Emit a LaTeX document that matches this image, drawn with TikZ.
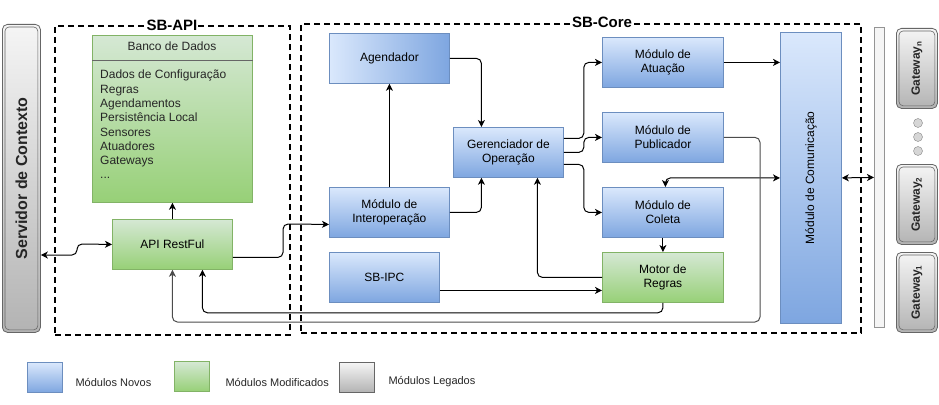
\documentclass[tikz,border=0pt]{standalone}
\usepackage{fontspec}
\setmainfont{Liberation Sans}
\usetikzlibrary{arrows.meta,calc}
\definecolor{bluetop}{HTML}{DAE8FC}
\definecolor{bluebot}{HTML}{7EA6E0}
\definecolor{blueline}{HTML}{6C8EBF}
\definecolor{greentop}{HTML}{D5E8D4}
\definecolor{greenbot}{HTML}{97D077}
\definecolor{greenline}{HTML}{82B366}
\definecolor{graytop}{HTML}{F5F5F5}
\definecolor{graybot}{HTML}{B3B3B3}
\definecolor{grayline}{HTML}{666666}
\definecolor{dotfill}{HTML}{D6D6D6}
\newcommand\mytxt{\fontsize{12}{14.3}\selectfont}
\newcommand\mysmall{\fontsize{11}{13}\selectfont}
\newcommand\mytitle{\fontsize{15}{17}\selectfont\bfseries}
\begin{document}
\begin{tikzpicture}[x=1pt,y=-1pt,
  box/.style={draw, anchor=north west, inner sep=2pt, align=center, font=\mytxt, line width=0.8pt},
  bluebox/.style={box, draw=blueline, top color=bluetop, bottom color=bluebot},
  greenbox/.style={box, draw=greenline, top color=greentop, bottom color=greenbot},
  graybox/.style={box, draw=grayline, top color=graytop, bottom color=graybot},
  dashbox/.style={draw=black, line width=2pt, dash pattern=on 6pt off 4pt, anchor=north west, inner sep=0pt},
  grouptitle/.style={font=\mytitle, fill=white, inner sep=1pt},
  arr/.style={draw=black, line width=1pt, rounded corners=5pt, -{Stealth[length=7pt,width=7pt,inset=2pt]}},
  dbl/.style={draw=black, line width=1pt, rounded corners=5pt, {Stealth[length=7pt,width=7pt,inset=2pt]}-{Stealth[length=7pt,width=7pt,inset=2pt]}},
  legtxt/.style={font=\mysmall, anchor=west, text=black!85},
]
\useasboundingbox (0,0) rectangle (939,404);

% containers
\node[dashbox, minimum width=235pt, minimum height=309pt] (sbapi) at (54,25) {};
\node[dashbox, minimum width=560pt, minimum height=309pt] (sbcore) at (300,23) {};
\node[grouptitle] (sbapit) at (172,25) {SB-API};
\node[grouptitle] (sbcoret) at (602,22) {SB-Core};

% Servidor de Contexto
\node[graybox, rounded corners=5pt, minimum width=38pt, minimum height=308pt] (srv) at (2,24) {};
\draw[grayline, line width=0.6pt, rounded corners=4pt] ($(srv.north west)+(3,3)$) rectangle ($(srv.south east)+(-3,-3)$);
\node[rotate=90, font=\fontsize{16}{18}\selectfont\bfseries, text=black!85] (srvt) at (srv.center) {Servidor de Contexto};

% SB-API
\node[greenbox, minimum width=160pt, minimum height=167pt] (db) at (92,35) {};
\node[font=\mytxt, text=black!85] (dbt) at (172,46) {Banco de Dados};
\draw[grayline, line width=0.8pt] (db.west |- 0,60) -- (db.east |- 0,60);
\node[font=\mytxt, align=left, anchor=north west, inner sep=0pt, text=black!85] (dbl) at (100,70) {Dados de Configuração\\Regras\\Agendamentos\\Persistência Local\\Sensores\\Atuadores\\Gateways\\...};
\node[greenbox, minimum width=120pt, minimum height=50pt] (api) at (112,219) {API RestFul};

% SB-Core
\node[box, draw=blueline, left color=bluetop, right color=bluebot, minimum width=120pt, minimum height=50pt] (agend) at (329,33) {Agendador};
\node[bluebox, minimum width=110pt, minimum height=50pt] (ger) at (453,127) {Gerenciador de\\Operação};
\node[bluebox, minimum width=120pt, minimum height=50pt] (interop) at (329,187) {Módulo de\\Interoperação};
\node[bluebox, minimum width=110pt, minimum height=50pt] (ipc) at (329,252) {SB-IPC};
\node[bluebox, minimum width=121pt, minimum height=50pt] (atu) at (602,37) {Módulo de\\Atuação};
\node[bluebox, minimum width=121pt, minimum height=50pt] (pub) at (602,112) {Módulo de\\Publicador};
\node[bluebox, minimum width=121pt, minimum height=50pt] (col) at (602,187) {Módulo de\\Coleta};
\node[greenbox, minimum width=121pt, minimum height=50pt] (mot) at (602,252) {Motor de\\Regras};
\node[bluebox, minimum width=61pt, minimum height=291pt] (comm) at (780,32) {};
\node[rotate=90, font=\mytxt] (commt) at (comm.center) {Módulo de Comunicação};

% bus and gateways
\node[box, draw=grayline!70, fill=graytop, minimum width=10pt, minimum height=300pt, inner sep=0pt] (bus) at (874,27) {};
\foreach \n/\y/\s in {gwn/28/n, gwb/164/2, gwa/252/1}{
  \node[graybox, rounded corners=5pt, minimum width=41pt, minimum height=80pt] (\n) at (896,\y) {};
  \draw[grayline, line width=0.6pt, rounded corners=4pt] ($(\n.north west)+(3,3)$) rectangle ($(\n.south east)+(-3,-3)$);
  \node[rotate=90, font=\fontsize{12}{14}\selectfont\bfseries, text=black!85] (\n t) at (\n.center) {Gateway\textsubscript{\s}};
}
\foreach \i/\y in {1/123,2/137,3/151}{
  \node[circle, draw=grayline!80, fill=dotfill, minimum size=9pt, inner sep=0pt] (dot\i) at (918,\y) {};
}

% connectors
\draw[dbl] (api.west) -- (77,244) -- (77,255) -- (srv.east |- 0,255);
\draw[arr] (api.north) -- (db.south);
\draw[arr] ([yshift=-13pt]api.east) -| (283,224) -- ([yshift=-12pt]interop.west);
\draw[arr] (interop.north) -- (agend.south);
\draw[arr] (agend.east) -| ([xshift=-27pt]ger.north);
\draw[arr] (interop.east) -| ([xshift=-27pt]ger.south);
\draw[arr] ([yshift=14pt]ger.east) -- ++(20,0) |- (atu.west);
\draw[arr] (ger.east) -- ++(20,0) |- (pub.west);
\draw[arr] ([yshift=-12pt]ger.east) -- ++(20,0) |- (col.west);
\draw[arr] (mot.west) -| ([xshift=29pt]ger.south);
\draw[arr] ([yshift=-13pt]ipc.east) -- ([yshift=-13pt]mot.west);
\draw[arr] (col.south) -- (mot.north);
\draw[arr] (atu.east) -- (comm.west |- atu.east);
\draw[dbl] (comm.west) -| ([xshift=2.5pt]col.north);
\draw[dbl] (comm.east) -- (bus.west);
\draw[arr, draw=black!70] (pub.east) -| (760,322) -| (api.south);
\draw[arr] (mot.south) -- ++(0,10) -| ([xshift=30pt]api.south);

% legend
\node[bluebox, minimum width=35pt, minimum height=30pt] (lg1) at (27,362) {};
\node[legtxt] (lt1) at (72,382) {Módulos Novos};
\node[greenbox, minimum width=35pt, minimum height=30pt] (lg2) at (174,361) {};
\node[legtxt] (lt2) at (222,382) {Módulos Modificados};
\node[graybox, minimum width=35pt, minimum height=30pt] (lg3) at (339,362) {};
\node[legtxt] (lt3) at (385,382) {Módulos Legados};
\end{tikzpicture}
\end{document}
